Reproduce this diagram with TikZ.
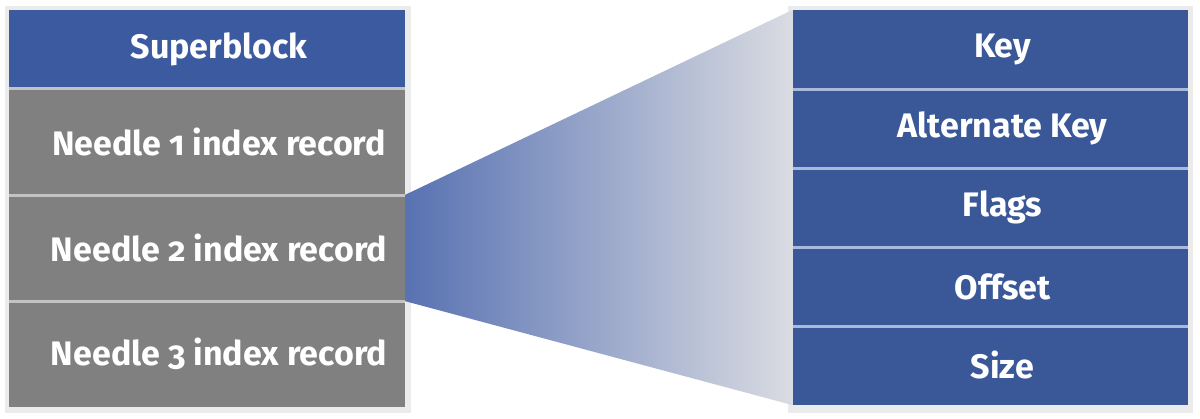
\documentclass[tikz,border=0pt]{standalone}
\usepackage{fontspec}
\setmainfont{Fira Sans}[Numbers=OldStyle]
\definecolor{boxblue}{RGB}{60,90,160}
\definecolor{rblue}{RGB}{58,88,152}
\definecolor{boxgray}{RGB}{128,128,128}
\definecolor{sepgray}{RGB}{195,195,195}
\definecolor{sepblue}{RGB}{170,186,222}
\definecolor{wedgeL}{RGB}{88,114,178}
\definecolor{wedgeR}{RGB}{218,220,226}
\begin{document}
\begin{tikzpicture}[x=1pt,y=-1pt,
  rowbox/.style={rectangle, inner sep=0pt, minimum width=396pt, text=white,
    font=\fontsize{34}{40}\selectfont\bfseries},
  rbox/.style={rowbox, fill=rblue, minimum width=395pt, minimum height=79pt},
  lbox/.style={rowbox, fill=boxgray, minimum height=106pt},
  lsep/.style={draw=sepgray, line width=3pt},
  rsep/.style={draw=sepblue, line width=3pt},
  shadowbox/.style={fill=black!8}]
\useasboundingbox (0,0) rectangle (1200,419);
\fill[white] (0,0) rectangle (1200,419);
% shadows
\fill[shadowbox] (5,6) rectangle (411,413);
\fill[shadowbox] (788,6) rectangle (1193,413);
% left column
\node[rowbox, fill=boxblue, minimum height=78pt] (sb) at (207,49) {\hspace*{24pt}Superblock};
\node[lbox] (n1) at (207,142) {\hspace*{24pt}Needle 1 index record};
\node[lbox] (n2) at (207,248) {\hspace*{24pt}Needle 2 index record};
\node[lbox] (n3) at (207,354) {\hspace*{24pt}Needle 3 index record};
% right column
\node[rbox] (key) at (990.5,49.5) {\hspace*{24pt}Key};
\node[rbox] (alt) at (990.5,128.5) {\hspace*{24pt}Alternate Key};
\node[rbox] (flags) at (990.5,207.5) {\hspace*{24pt}Flags};
\node[rbox] (off) at (990.5,286.5) {\hspace*{24pt}Offset};
\node[rbox] (size) at (990.5,365.5) {\hspace*{24pt}Size};
% wedge
\shade[left color=wedgeL, right color=wedgeR]
  (n2.north east) -- (key.north west) -- (size.south west) -- (n2.south east) -- cycle;
% separators
\draw[lsep] (sb.south west) -- (sb.south east);
\draw[lsep] (n1.south west) -- (n1.south east);
\draw[lsep] (n2.south west) -- (n2.south east);
\draw[rsep] (key.south west) -- (key.south east);
\draw[rsep] (alt.south west) -- (alt.south east);
\draw[rsep] (flags.south west) -- (flags.south east);
\draw[rsep] (off.south west) -- (off.south east);
\end{tikzpicture}
\end{document}
